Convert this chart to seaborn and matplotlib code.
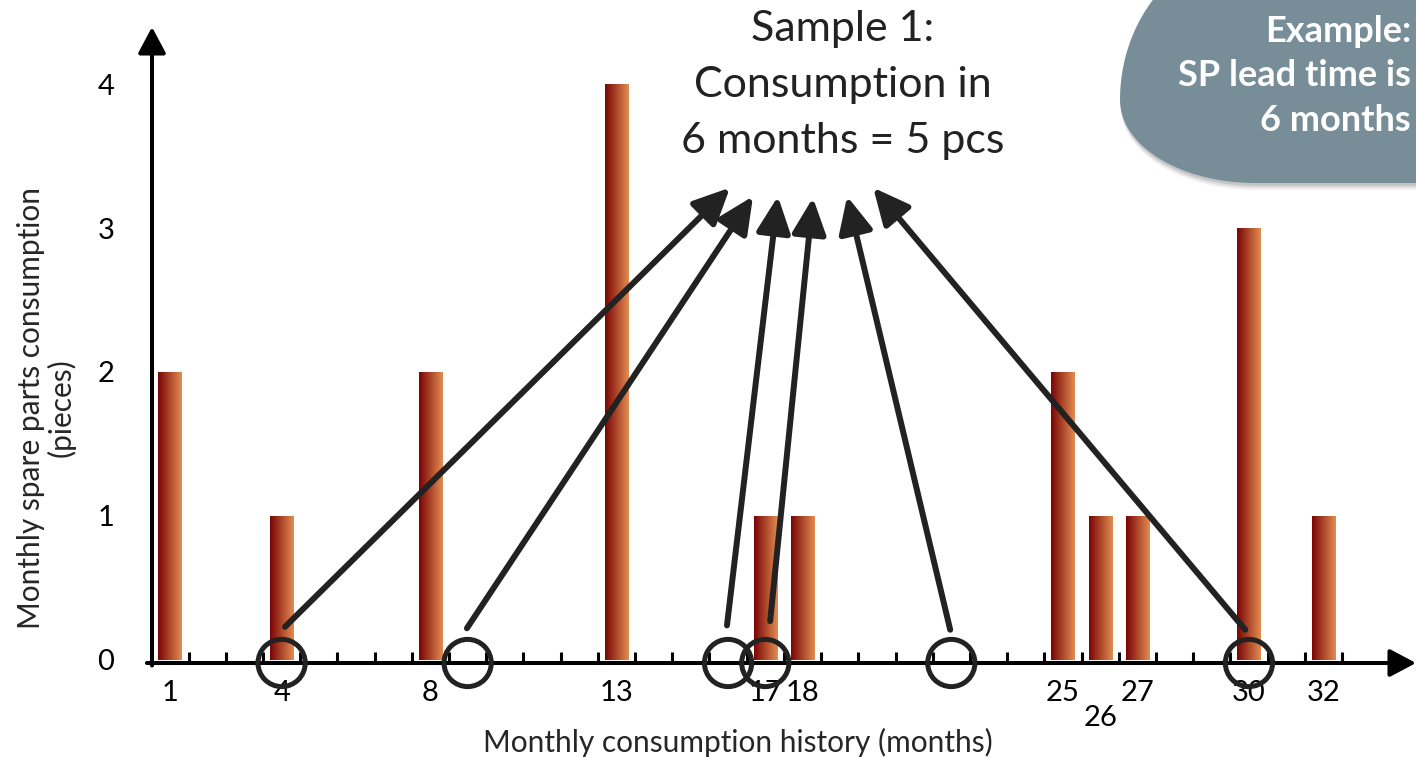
import numpy as np
import pandas as pd
import matplotlib
matplotlib.use("Agg")
import matplotlib.pyplot as plt
from matplotlib.colors import LinearSegmentedColormap
from matplotlib.patches import Polygon
from matplotlib.transforms import ScaledTranslation
import seaborn as sns

# ---- data -------------------------------------------------------------
months = [1, 4, 8, 13, 17, 18, 25, 26, 27, 30, 32]
pieces = [2, 1, 2, 4, 1, 1, 2, 1, 1, 3, 1]
n_months = 32

# months picked for the six-month sample (lead time = 6 months)
sample_months = [4, 9, 16, 17, 22, 30]

y_ticks = [0, 1, 2, 3, 4]
x_tick_labels = [str(m) for m in months]

title_text = "Sample 1:\nConsumption in\n6 months = 5 pcs"
callout_text = "Example:\nSP lead time is\n6 months"
x_label = "Monthly consumption history (months)"
y_label = "Monthly spare parts consumption\n(pieces)"

# ---- style ------------------------------------------------------------
sns.set_style("white")
plt.rcParams["font.family"] = ["Lato", "DejaVu Sans"]

W, H, DPI = 1416, 757, 100
fig = plt.figure(figsize=(W / DPI, H / DPI), dpi=DPI)
ax = fig.add_axes([152 / W, (H - 663) / H, (W - 152) / W, (663 - 27) / H])

df = pd.DataFrame({"month": months, "pieces": pieces})
sns.barplot(data=df, x="month", y="pieces", native_scale=True, width=0.62,
            color="#ae482a", ax=ax, zorder=2)

# horizontal dark-red -> orange gradient inside each bar
grad_cmap = LinearSegmentedColormap.from_list("bar_grad", ["#7a0404", "#e28d52"])
grad = np.linspace(0, 1, 256).reshape(1, -1)
for bar in ax.patches:
    x0, y0 = bar.get_x(), bar.get_y()
    w, h = bar.get_width(), bar.get_height()
    ax.imshow(grad, extent=[x0, x0 + w, y0, y0 + h], aspect="auto",
              cmap=grad_cmap, zorder=2, interpolation="bilinear")
    bar.set_facecolor("none")
    bar.set_edgecolor("none")

ax.set_xlim(0.516, 34.49)
ax.set_ylim(-0.021, 4.396)
ax.set_aspect("auto")

for s in ax.spines.values():
    s.set_visible(False)

# axes drawn as arrows
arrow_axis = dict(arrowstyle="-|>,head_length=1.6,head_width=0.85",
                  mutation_scale=10, lw=2.9, color="black",
                  shrinkA=0, shrinkB=0)
ax.annotate("", xy=(1.0, 0), xytext=(-0.004, 0), xycoords="axes fraction",
            arrowprops=arrow_axis, annotation_clip=False, zorder=4)
ax.annotate("", xy=(0, 1.0), xytext=(0, -0.004), xycoords="axes fraction",
            arrowprops=arrow_axis, annotation_clip=False, zorder=4)

# month boundary ticks (minor) and labelled months (major)
ax.set_xticks(np.arange(1.5, n_months + 0.6, 1.0), minor=True)
ax.set_xticks(months)
ax.set_xticklabels(x_tick_labels)
ax.tick_params(axis="x", which="minor", direction="in", length=8, width=2.2,
               color="black", bottom=True)
ax.tick_params(axis="x", which="major", length=0, pad=12, labelsize=21,
               labelcolor="black")
ax.set_yticks(y_ticks)
ax.set_yticklabels([str(v) for v in y_ticks])
ax.tick_params(axis="y", length=0, pad=27, labelsize=21, labelcolor="black")

# the "26" label sits one step lower so it does not collide with 25/27
for lab in ax.get_xticklabels():
    if lab.get_text() == "26":
        lab.set_transform(lab.get_transform() +
                          ScaledTranslation(0, -25 / DPI, fig.dpi_scale_trans))

ax.set_xlabel(x_label, fontsize=21.5)
ax.xaxis.set_label_coords((738 - 152) / (W - 152), (663 - 728) / (663 - 27))
ax.set_ylabel(y_label, fontsize=21.5, linespacing=1.05)
ax.yaxis.label.set_va("center")
ax.yaxis.set_label_coords((46 - 152) / (W - 152), (663 - 408) / (663 - 27))

# sample circles on the month axis
ax.scatter(sample_months, [-0.021] * len(sample_months), s=34 ** 2,
           facecolors="none", edgecolors="#222222", linewidths=3.6,
           zorder=5, clip_on=False)

# arrows from the sampled months up to the summary text
arrow_starts = [(4.09, 0.23), (8.98, 0.22), (15.97, 0.24),
                (17.13, 0.27), (21.97, 0.21), (29.9, 0.21)]
arrow_tips = [(16.05, 3.28), (16.67, 3.22), (17.34, 3.22),
              (18.28, 3.21), (19.2, 3.22), (19.9, 3.28)]
arrow_pointer = dict(arrowstyle="-|>,head_length=1.1,head_width=0.52",
                     mutation_scale=20, lw=4.3, color="#222222",
                     shrinkA=0, shrinkB=0)
for st, tp in zip(arrow_starts, arrow_tips):
    ax.annotate("", xy=tp, xytext=st, arrowprops=arrow_pointer, zorder=6)

# summary text
fig.text(843 / W, 1 - 85 / H, title_text, ha="center", va="center",
         fontsize=31, color="#222222", linespacing=1.58)

# rounded callout in the upper-right corner (pixel geometry, y down)
cx, cy, a, b_up, b_dn = 1255, 100, 135, 153, 83
t = np.linspace(np.pi / 2, 0, 60)
upper = np.column_stack([cx - a * np.cos(t), cy - b_up * np.sin(t)])
t2 = np.linspace(0, np.pi / 2, 60)
lower = np.column_stack([cx - a * np.cos(t2), cy + b_dn * np.sin(t2)])
outline = np.vstack([upper, lower, [[1500, cy + b_dn], [1500, cy - b_up]]])


def to_inches(pts, dx=0.0, dy=0.0):
    return np.column_stack([(pts[:, 0] + dx) / DPI, (H - pts[:, 1] - dy) / DPI])


for dx, dy, al in [(1, 7, 0.08), (1, 5, 0.12), (1, 3, 0.18)]:
    fig.patches.append(Polygon(to_inches(outline, dx, dy), closed=True,
                               transform=fig.dpi_scale_trans,
                               facecolor="#555555", edgecolor="none",
                               alpha=al, zorder=1))
fig.patches.append(Polygon(to_inches(outline), closed=True,
                           transform=fig.dpi_scale_trans,
                           facecolor="#778e99", edgecolor="none", zorder=2))
fig.text(1411 / W, 1 - 76 / H, callout_text, ha="right", va="center",
         fontsize=26, fontweight="bold", color="white", linespacing=1.42,
         zorder=3)

fig.savefig("out.png", dpi=DPI)
